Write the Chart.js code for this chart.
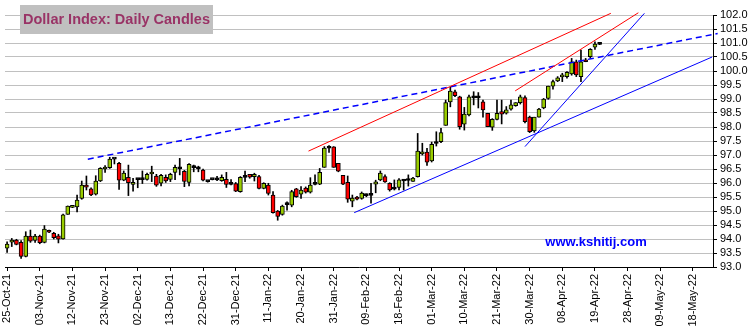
<!DOCTYPE html>
<html>
<head>
<meta charset="utf-8">
<title>Dollar Index: Daily Candles</title>
<script src="https://cdn.jsdelivr.net/npm/chart.js@4.4.1/dist/chart.umd.min.js"></script>
<style>
  html, body { margin: 0; padding: 0; background: #ffffff; }
  canvas { display: block; }
</style>
</head>
<body>
<canvas id="chart" width="753" height="334"></canvas>
<script>
// Date labels shown every 7 sessions (session 0 = 25-Oct-21)
const tickLabels = ['25-Oct-21','03-Nov-21','12-Nov-21','23-Nov-21','02-Dec-21','13-Dec-21','22-Dec-21',
  '31-Dec-21','11-Jan-22','20-Jan-22','31-Jan-22','09-Feb-22','18-Feb-22','01-Mar-22','10-Mar-22',
  '21-Mar-22','30-Mar-22','08-Apr-22','19-Apr-22','28-Apr-22','09-May-22','18-May-22'];
const sessionsPerTick = 7;

// Daily OHLC, one entry per weekday session
const opens = [
  93.67,93.89,93.96,93.88,93.38,94.10,93.95,94.10,93.88,94.31,
  94.20,94.11,94.00,94.88,95.13,95.15,95.45,95.92,95.79,95.60,
  96.07,96.50,96.55,96.85,96.70,96.10,96.20,95.95,96.12,96.12,
  96.13,96.32,96.25,95.99,96.20,96.13,96.38,96.51,96.42,96.02,
  96.55,96.52,96.46,96.05,96.12,96.11,96.08,96.13,95.95,95.98,
  95.69,96.20,96.31,96.23,96.23,95.81,95.93,95.57,95.00,94.88,
  95.23,95.21,95.79,95.60,95.82,95.67,95.95,95.96,96.56,97.24,
  97.29,96.70,96.27,96.02,95.35,95.50,95.45,95.55,95.56,95.96,
  96.11,96.23,95.99,95.78,95.84,96.07,96.09,96.06,96.23,97.04,
  97.10,96.79,97.41,97.48,98.06,98.90,99.26,99.08,98.10,98.43,
  99.04,99.05,98.90,98.49,97.99,98.27,98.55,98.49,98.64,98.76,
  98.87,99.05,98.35,97.86,98.35,98.68,99.02,99.46,99.65,99.79,
  99.80,99.90,100.33,99.80,100.39,100.51,100.85,100.95];
const highs = [
  93.90,94.02,93.99,93.94,94.26,94.32,94.17,94.14,94.48,94.32,
  94.24,94.17,94.89,95.18,95.18,95.57,96.07,96.25,95.83,96.26,
  96.55,96.62,96.92,96.86,96.74,96.43,96.64,96.17,96.15,96.43,
  96.35,96.60,96.31,96.31,96.29,96.35,96.64,96.88,96.45,96.69,
  96.64,96.60,96.50,96.07,96.13,96.24,96.29,96.38,96.12,96.02,
  96.23,96.43,96.31,96.35,96.27,96.01,95.99,95.69,95.02,95.21,
  95.33,95.74,95.81,95.87,95.86,96.19,96.29,96.52,97.30,97.34,
  97.30,96.70,96.27,96.25,95.57,95.52,95.68,95.61,95.99,96.10,
  96.43,96.29,96.01,96.11,96.16,96.13,96.29,96.20,97.77,97.42,
  97.24,97.46,97.83,97.95,98.96,99.42,99.32,99.10,98.70,99.14,
  99.26,99.23,98.96,98.49,98.30,98.96,98.96,98.73,98.96,98.87,
  99.14,99.11,98.39,98.35,98.67,99.02,99.46,99.68,99.80,99.92,
  99.98,100.45,100.39,100.75,100.45,100.80,101.04,101.01];
const lows = [
  93.52,93.73,93.79,93.31,93.36,93.88,93.88,93.83,93.86,94.23,
  94.00,93.86,93.99,94.88,95.12,94.97,95.42,95.75,95.55,95.57,
  96.05,96.38,96.52,96.68,95.77,96.08,95.55,95.71,95.83,95.98,
  96.10,96.05,95.88,95.90,96.02,96.05,96.12,96.29,95.87,95.90,
  96.40,96.40,96.07,96.03,96.11,96.08,96.06,95.84,95.93,95.69,
  95.67,96.05,96.17,96.07,95.79,95.79,95.57,94.92,94.67,94.85,
  95.03,95.15,95.49,95.45,95.64,95.64,95.93,95.94,96.56,97.09,
  96.56,96.40,95.94,95.31,95.15,95.40,95.42,95.51,95.28,95.65,
  96.08,96.02,95.71,95.75,95.75,95.75,95.89,96.06,96.21,97.00,
  96.63,96.75,97.32,97.44,98.06,98.72,99.08,97.92,97.89,98.40,
  98.79,98.68,98.35,98.01,97.88,98.25,98.11,98.46,98.60,98.74,
  98.82,98.15,97.80,97.81,98.35,98.65,98.99,99.35,99.62,99.62,
  99.74,99.85,99.80,99.62,100.33,100.45,100.77,100.94];
const closes = [
  93.82,93.96,93.81,93.38,94.10,93.92,94.10,93.87,94.35,94.24,
  94.05,93.99,94.86,95.18,95.15,95.39,95.93,95.85,95.57,96.07,
  96.52,96.52,96.85,96.85,96.10,96.35,96.01,96.02,96.13,96.13,
  96.31,96.34,95.92,96.27,96.07,96.31,96.56,96.52,96.06,96.67,
  96.56,96.51,96.10,96.05,96.12,96.12,96.20,95.95,95.95,95.71,
  96.20,96.21,96.21,96.31,95.81,95.99,95.63,94.94,94.81,95.18,
  95.24,95.69,95.51,95.75,95.67,95.93,95.96,96.38,97.25,97.25,
  96.56,96.42,95.96,95.42,95.46,95.42,95.64,95.56,95.57,96.04,
  96.35,96.04,95.75,95.79,96.11,96.08,96.10,96.18,97.14,97.11,
  96.74,97.38,97.42,97.80,98.87,99.28,99.12,98.01,98.46,99.08,
  99.05,99.04,98.61,98.01,98.27,98.49,98.46,98.61,98.79,98.87,
  99.08,98.19,97.83,98.35,98.64,99.00,99.46,99.62,99.76,99.81,
  99.95,100.33,99.86,100.33,100.33,100.77,100.96,100.96];

// Trend lines: [session, level] end points
const redChannelUpper = [[64.6, 97.14], [129.4, 102.06]];
const redChannelLower = [[108.9, 99.29], [135.3, 102.08]];
const blueDashedLine  = [[17.3, 96.85], [152.3, 101.34]];
const blueSupportLong = [[74.4, 94.94], [151.1, 100.50]];
const blueSupportSteep = [[111.0, 97.30], [136.6, 102.06]];

const UP = '#99cc00', DOWN = '#ff0000', FLAT = '#000000';
const sessions = opens.map((_, i) => i);
const bodyColors = sessions.map(i => {
  const d = closes[i] - opens[i];
  if (Math.abs(d) < 0.015) return FLAT;
  return d > 0 ? UP : DOWN;
});
const toPoints = arr => arr.map(([x, y]) => ({ x, y }));
const trend = (pts, color, width, dash) => ({
  type: 'line', data: toPoints(pts), borderColor: color, borderWidth: width,
  borderDash: dash || [], pointRadius: 0, fill: false, clip: false, order: 0, tension: 0
});

const FONT = "'Liberation Sans', Arial, sans-serif";

const overlayText = {
  id: 'overlayText',
  afterDraw(chart) {
    const ctx = chart.ctx;
    ctx.save();
    // title box
    ctx.fillStyle = '#c0c0c0';
    ctx.fillRect(20, 5, 193, 29);
    ctx.fillStyle = '#993366';
    ctx.font = "bold 14.5px " + FONT;
    ctx.textBaseline = 'middle';
    ctx.textAlign = 'left';
    ctx.fillText('Dollar Index: Daily Candles', 23, 20);
    // site credit
    ctx.fillStyle = '#0000ff';
    ctx.font = "bold 13px " + FONT;
    ctx.textAlign = 'center';
    ctx.fillText('www.kshitij.com', 596, 242);
    ctx.restore();
  }
};

const zeroPadding = s => { s.paddingLeft = 0; s.paddingRight = 0; s.paddingTop = 0; s.paddingBottom = 0; };

new Chart(document.getElementById('chart'), {
  type: 'bar',
  data: {
    datasets: [
      trend(redChannelUpper, '#ff0000', 1),
      trend(redChannelLower, '#ff0000', 1),
      trend(blueDashedLine, '#0000ff', 1.5, [6, 4]),
      trend(blueSupportLong, '#0000ff', 1),
      trend(blueSupportSteep, '#0000ff', 1),
      {
        label: 'body',
        data: sessions.map(i => ({ x: i, y: [opens[i], closes[i]] })),
        backgroundColor: bodyColors,
        borderColor: '#000000',
        borderWidth: 1,
        borderSkipped: false,
        barThickness: 4,
        minBarLength: 2,
        grouped: false,
        order: 1
      },
      {
        label: 'wick',
        data: sessions.map(i => ({ x: i, y: [lows[i], highs[i]] })),
        backgroundColor: '#000000',
        borderWidth: 0,
        barThickness: 1,
        grouped: false,
        order: 2
      }
    ]
  },
  options: {
    responsive: false,
    animation: false,
    events: [],
    layout: { padding: { left: 5, top: 15, right: 0, bottom: 0 } },
    plugins: { legend: { display: false }, tooltip: { enabled: false }, title: { display: false } },
    scales: {
      x: {
        type: 'linear',
        min: -0.45,
        max: 151.3,
        offset: false,
        afterBuildTicks: s => { s.ticks = tickLabels.map((_, k) => ({ value: k * sessionsPerTick })); },
        afterFit: s => { s.height = 67; zeroPadding(s); },
        ticks: {
          autoSkip: false,
          minRotation: 90,
          maxRotation: 90,
          padding: 3,
          color: '#000000',
          font: { family: FONT, size: 11 },
          callback: v => tickLabels[Math.round(v / sessionsPerTick)]
        },
        grid: { drawOnChartArea: false, drawTicks: true, tickLength: 4, color: '#000000', offset: false },
        border: { color: '#000000', width: 1 }
      },
      y: {
        position: 'right',
        min: 93,
        max: 102,
        afterFit: s => { s.width = 40; zeroPadding(s); },
        ticks: {
          stepSize: 0.5,
          autoSkip: false,
          padding: 3,
          color: '#000000',
          font: { family: FONT, size: 11 },
          callback: v => v.toFixed(1)
        },
        grid: { color: '#c0c0c0', lineWidth: 1, tickColor: '#000000', tickLength: 4 },
        border: { color: '#000000', width: 1 }
      }
    }
  },
  plugins: [overlayText]
});
</script>
</body>
</html>
